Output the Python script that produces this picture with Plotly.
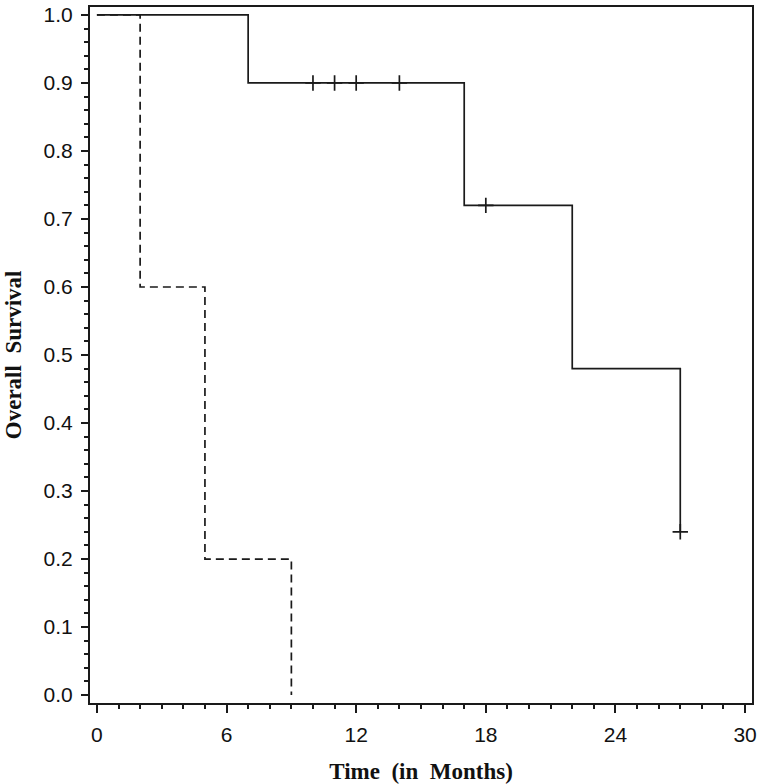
import plotly.graph_objects as go

# Group 1 (solid) Kaplan-Meier steps
solid_time = [0, 7, 17, 22, 27]
solid_surv = [1.0, 0.9, 0.72, 0.48, 0.24]
solid_cens_time = [10, 11, 12, 14, 18, 27]
solid_cens_surv = [0.9, 0.9, 0.9, 0.9, 0.72, 0.24]

# Group 2 (dashed) Kaplan-Meier steps
dash_time = [0, 2, 5, 9]
dash_surv = [1.0, 0.6, 0.2, 0.0]

x_ticks = [0, 6, 12, 18, 24, 30]
y_ticks = [0.0, 0.1, 0.2, 0.3, 0.4, 0.5, 0.6, 0.7, 0.8, 0.9, 1.0]

LINE = "#1a1a1a"
TICKFONT = dict(family="Liberation Sans Narrow, Arial Narrow, Liberation Sans, Arial", size=21, color="#111")
TITLEFONT = dict(family="Liberation Serif, Times New Roman, serif", size=23, color="#111")

fig = go.Figure()
fig.add_trace(go.Scatter(x=dash_time, y=dash_surv, mode="lines", line_shape="hv",
                         line=dict(color=LINE, width=1.7, dash="8px,5px"), showlegend=False))
fig.add_trace(go.Scatter(x=solid_time, y=solid_surv, mode="lines", line_shape="hv",
                         line=dict(color=LINE, width=1.7), showlegend=False))
fig.add_trace(go.Scatter(x=solid_cens_time, y=solid_cens_surv, mode="markers",
                         marker=dict(symbol="cross-thin", size=11, line=dict(color=LINE, width=1.7)),
                         showlegend=False))

fig.update_layout(
    width=760, height=784,
    margin=dict(l=90, r=6, t=3, b=81),
    plot_bgcolor="white", paper_bgcolor="white",
    annotations=[dict(text="<b>Overall  Survival</b>", textangle=-90, font=TITLEFONT,
                      xref="paper", yref="paper", x=-0.116, y=0.5,
                      xanchor="center", yanchor="middle", showarrow=False)],
)
fig.update_xaxes(
    range=[-0.32, 30.32], tickvals=x_ticks, ticktext=[str(v) for v in x_ticks],
    ticks="outside", ticklen=8, tickwidth=2, tickcolor=LINE,
    minor=dict(dtick=1, ticks="outside", ticklen=4, tickwidth=2, tickcolor=LINE, showgrid=False),
    showline=True, linecolor=LINE, linewidth=2, mirror=True,
    showgrid=False, zeroline=False, tickfont=TICKFONT, ticklabeloverflow="allow",
    ticklabelstandoff=4,
    title=dict(text="<b>Time  (in  Months)</b>", font=TITLEFONT, standoff=18),
)
fig.update_yaxes(
    range=[-0.0117, 1.0117], tickvals=y_ticks, ticktext=[f"{v:.1f}" for v in y_ticks],
    ticks="outside", ticklen=7, tickwidth=2, tickcolor=LINE,
    minor=dict(dtick=0.02, tick0=0, ticks="outside", ticklen=4, tickwidth=2, tickcolor=LINE, showgrid=False),
    showline=True, linecolor=LINE, linewidth=2, mirror=True,
    showgrid=False, zeroline=False, tickfont=TICKFONT, ticklabeloverflow="allow",
    ticklabelstandoff=4,
)

fig.write_html("out.html", config={"displayModeBar": False},
               post_script="document.body.style.margin='0';document.body.style.overflow='hidden';")
